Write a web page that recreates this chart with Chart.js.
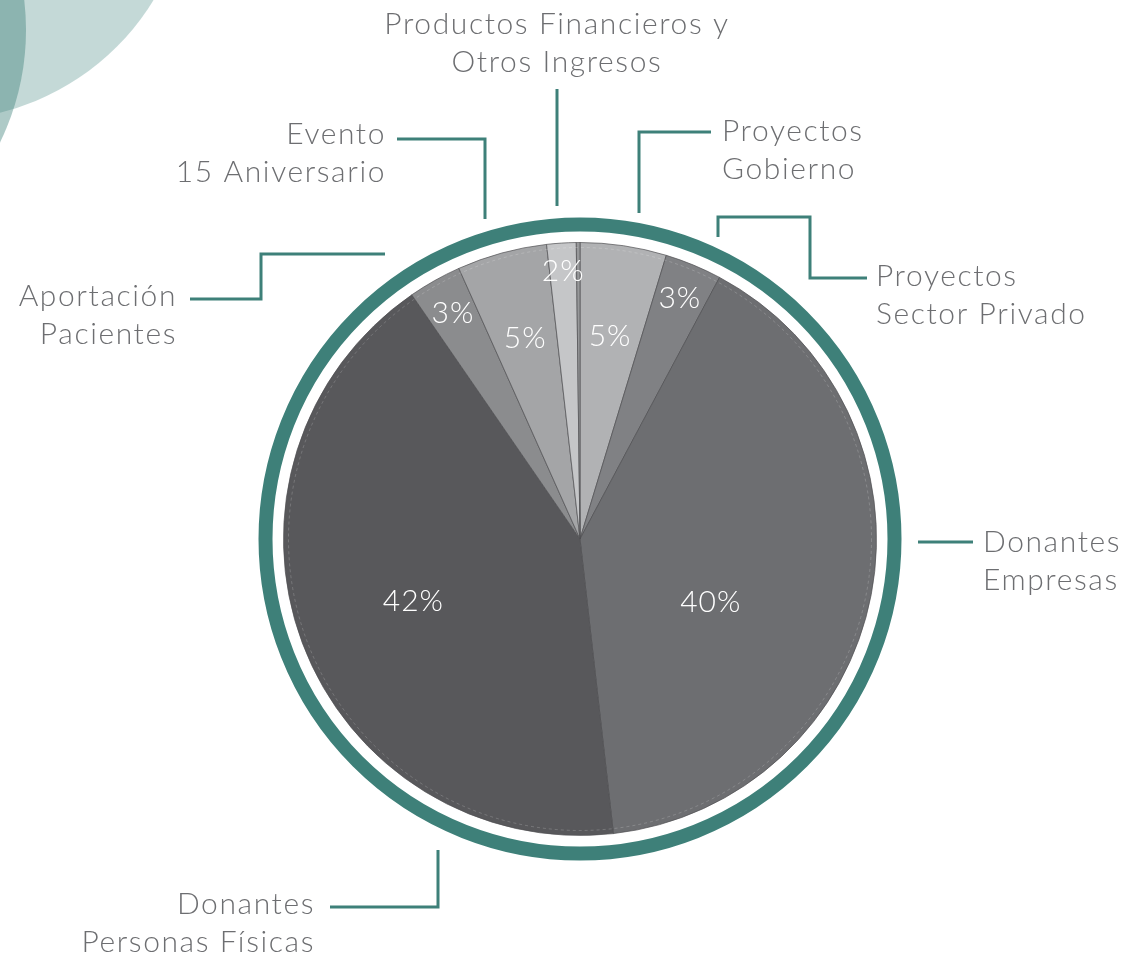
<!DOCTYPE html>
<html lang="es">
<head>
<meta charset="utf-8">
<script src="https://cdn.jsdelivr.net/npm/chart.js@4.4.1/dist/chart.umd.min.js"></script>
<style>
    html, body { margin: 0; padding: 0; background: #ffffff; overflow: hidden; }
    #wrap { position: relative; width: 1147px; height: 958px; }
    .deco { position: absolute; border-radius: 50%; }
    #c1 { left: -310px; top: -380px; width: 500px; height: 500px; background: rgba(61,128,121,0.30); }
    #c2 { left: -486px; top: -226px; width: 512px; height: 512px; background: rgba(61,128,121,0.42); }
    canvas { position: absolute; left: 0; top: 0; }
</style>
</head>
<body>
<div id="wrap">
    <div class="deco" id="c1"></div>
    <div class="deco" id="c2"></div>
    <canvas id="grafico" width="1147" height="958"></canvas>
</div>
<script>
// Datos del gráfico (porcentaje de ingresos por fuente)
const categorias = ['Proyectos Gobierno', 'Proyectos Sector Privado', 'Donantes Empresas', 'Donantes Personas Físicas',
    'Aportación Pacientes', 'Evento 15 Aniversario', 'Productos Financieros y Otros Ingresos', 'Otros'];
const valores = [4.7, 3.1, 40.4, 42.2, 2.9, 4.9, 1.6, 0.2];
const etiquetas = ['5%', '3%', '40%', '42%', '3%', '5%', '2%', ''];
const colores = ['#b1b2b4', '#808184', '#6d6e71', '#58585b', '#8b8c8e', '#a4a5a7', '#c5c6c8', '#97989a'];

// Ajuste de la posición de los porcentajes: [fracción del radio, giro en grados]
const ajusteEtiquetas = [[0.69, 0], [0.88, 0], [0.49, 15], [0.60, 0], [0.875, 0], [0.70, 0], [0.905, 0], [0, 0]];

// Textos exteriores con su línea guía (desplazamientos respecto al centro del pastel)
const rotulos = [
    { lineas: ['Productos Financieros y', 'Otros Ingresos'], align: 'center', tx: -23, ty: -515, guia: [[-23, -333], [-23, -450]] },
    { lineas: ['Evento', '15 Aniversario'], align: 'right', tx: -194, ty: -405, guia: [[-95, -320], [-95, -400], [-183, -400]] },
    { lineas: ['Proyectos', 'Gobierno'], align: 'left', tx: 142, ty: -408, guia: [[59, -326], [59, -407], [131, -407]] },
    { lineas: ['Proyectos', 'Sector Privado'], align: 'left', tx: 296, ty: -263, guia: [[138, -302], [138, -322], [230, -322], [230, -261], [287, -261]] },
    { lineas: ['Donantes', 'Empresas'], align: 'left', tx: 403, ty: 3, guia: [[338, 3], [393, 3]] },
    { lineas: ['Donantes', 'Personas Físicas'], align: 'right', tx: -265, ty: 365, guia: [[-142, 311], [-142, 368], [-250, 368]] },
    { lineas: ['Aportación', 'Pacientes'], align: 'right', tx: -403, ty: -243, guia: [[-195, -285], [-319, -285], [-319, -240], [-390, -240]] }
];

const TEAL = '#3e8079';
const FUENTE = '"Lato", "Open Sans", sans-serif';

const pluginDecoracion = {
    id: 'decoracion',
    beforeDatasetsDraw(chart) {
        const arc = chart.getDatasetMeta(0).data[0];
        const ctx = chart.ctx;
        ctx.save();
        // anillo verde exterior
        ctx.beginPath();
        ctx.arc(arc.x, arc.y, arc.outerRadius + 18, 0, Math.PI * 2);
        ctx.strokeStyle = TEAL;
        ctx.lineWidth = 14;
        ctx.stroke();
        ctx.restore();
    },
    afterDatasetsDraw(chart) {
        const meta = chart.getDatasetMeta(0);
        const ctx = chart.ctx;
        const cx = meta.data[0].x;
        const cy = meta.data[0].y;
        const R = meta.data[0].outerRadius;
        ctx.save();

        // línea punteada interior
        ctx.beginPath();
        ctx.arc(cx, cy, R - 5, 0, Math.PI * 2);
        ctx.setLineDash([3, 3]);
        ctx.strokeStyle = 'rgba(255,255,255,0.18)';
        ctx.lineWidth = 1;
        ctx.stroke();
        ctx.setLineDash([]);

        // porcentajes dentro del pastel
        ctx.fillStyle = '#ffffff';
        ctx.font = '300 30px ' + FUENTE;
        ctx.letterSpacing = '1px';
        ctx.textAlign = 'center';
        ctx.textBaseline = 'middle';
        meta.data.forEach((a, i) => {
            if (!etiquetas[i]) return;
            const [fr, giro] = ajusteEtiquetas[i];
            const ang = (a.startAngle + a.endAngle) / 2 + giro * Math.PI / 180;
            ctx.fillText(etiquetas[i], cx + Math.cos(ang) * R * fr, cy + Math.sin(ang) * R * fr);
        });

        // líneas guía y textos exteriores
        ctx.strokeStyle = TEAL;
        ctx.lineWidth = 3;
        ctx.fillStyle = '#6d6e71';
        ctx.font = '300 30px ' + FUENTE;
        ctx.letterSpacing = '1.6px';
        rotulos.forEach(r => {
            ctx.beginPath();
            r.guia.forEach((p, j) => {
                if (j === 0) ctx.moveTo(cx + p[0], cy + p[1]);
                else ctx.lineTo(cx + p[0], cy + p[1]);
            });
            ctx.stroke();
            ctx.textAlign = r.align;
            r.lineas.forEach((t, j) => {
                ctx.fillText(t, cx + r.tx, cy + r.ty + j * 38);
            });
        });
        ctx.restore();
    }
};

new Chart(document.getElementById('grafico'), {
    type: 'pie',
    data: {
        labels: categorias,
        datasets: [{
            data: valores,
            backgroundColor: colores,
            borderColor: 'rgba(80,80,82,0.7)',
            borderWidth: 1
        }]
    },
    options: {
        responsive: false,
        animation: false,
        layout: {
            padding: { left: 283, right: 270, top: 242, bottom: 122 }
        },
        plugins: {
            legend: { display: false },
            tooltip: { enabled: false }
        }
    },
    plugins: [pluginDecoracion]
});
</script>
</body>
</html>
